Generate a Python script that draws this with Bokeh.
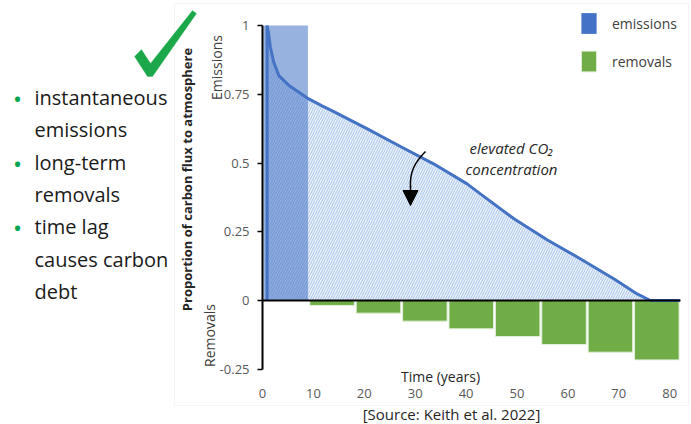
import math
from bokeh.plotting import figure
from bokeh.models import (Range1d, FixedTicker, Label, Legend, LegendItem,
                          PolyAnnotation, Arrow, NormalHead, LinearAxis)
from bokeh.embed import file_html
from bokeh.resources import INLINE

# ---------------- data ----------------
curve_years = [0.9, 0.9, 1.2, 1.55, 2.2, 3.2, 5.2, 8.8, 11.7, 14.0, 20.6, 27.1,
               33.6, 40.2, 43.0, 49.4, 55.9, 62.5, 69.0, 73.6, 76.2, 82.0]
curve_values = [0.0, 1.0, 0.97, 0.921, 0.867, 0.818, 0.782, 0.736, 0.708, 0.687,
                0.624, 0.56, 0.497, 0.424, 0.385, 0.297, 0.221, 0.151, 0.079,
                0.024, 0.0, 0.0]
emission_index = [0]
emission_values = [1.0]
removal_index = [1, 2, 3, 4, 5, 6, 7, 8]
removal_values = [-0.018, -0.046, -0.075, -0.103, -0.131, -0.160, -0.188, -0.216]
x_ticks = [0, 10, 20, 30, 40, 50, 60, 70, 80]
y_ticks = [-0.25, 0, 0.25, 0.5, 0.75, 1]
y_tick_labels = ["-0.25", "0", "0.25", "0.5", "0.75", "1"]
bullet_lines = [("instantaneous", True), ("emissions", False),
                ("long-term", True), ("removals", False),
                ("time lag", True), ("causes carbon", False), ("debt", False)]

FONT = "Open Sans"
BLUE = "#4472c4"
GREEN = "#70ad47"

# page-pixel helpers for annotation placement
def X(px):
    return (px - 262) / 5.09

def Y(py):
    return (300 - py) / 275.0

def B(px):  # bar-index scale
    return -0.5 + (px - 262) / 46.39

W, H = 691, 424
p = figure(width=W, height=H, x_range=Range1d(X(0), X(W)),
           y_range=Range1d(Y(H), Y(0)), output_backend="svg",
           toolbar_location=None, min_border=0, x_axis_location=None,
           y_axis_location=None)
p.extra_x_ranges = {"bars": Range1d(B(0), B(W))}
p.outline_line_color = None
p.xgrid.visible = False
p.ygrid.visible = False
p.background_fill_color = "white"
p.border_fill_color = "white"

# chart border
p.add_layout(PolyAnnotation(xs=[X(174), X(688), X(688), X(174)],
                            ys=[Y(3), Y(3), Y(405), Y(405)],
                            fill_alpha=0, line_color="#d9d9d9", line_width=1,
                            level="underlay"))

# hatched area under curve
p.varea(x=curve_years, y1=0, y2=curve_values, fill_color="#f0f5fc",
        hatch_pattern="/", hatch_color="#b3cbed", hatch_scale=5, hatch_weight=1.2)

# bars
p.vbar(x=emission_index, top=emission_values, bottom=0, width=0.96,
       x_range_name="bars", fill_color=BLUE, fill_alpha=0.55, line_color=None)
rem = p.vbar(x=removal_index, top=removal_values, bottom=0, width=0.96,
             x_range_name="bars", fill_color=GREEN, line_color="#e2efda", line_width=1)
# zero-height twin of the emission bar, used as the legend swatch
legend_em = p.vbar(x=emission_index, top=0, bottom=0, width=0.96,
                   x_range_name="bars", fill_color=BLUE, line_color=None)

# curve
p.line(curve_years, curve_values, line_color=BLUE, line_width=3)

# arrow
p.bezier(x0=[X(425)], y0=[Y(151)], x1=[X(410)], y1=[Y(187)],
         cx0=[X(414)], cy0=[Y(162)], cx1=[X(409)], cy1=[Y(172)],
         line_color="black", line_width=1.5)
p.add_layout(Arrow(end=NormalHead(size=15, fill_color="black", line_color="black"),
                   x_start=X(410), y_start=Y(186), x_end=X(410), y_end=Y(205),
                   line_color="black", line_width=1.5))

for txt, py in [("elevated CO\u2082", 147), ("concentration", 168)]:
    p.add_layout(Label(x=X(511), y=Y(py), text=txt, text_font=FONT,
                       text_font_size="15px", text_font_style="italic",
                       text_color="#262626", text_align="center",
                       text_baseline="alphabetic"))

# axes (fixed inside the frame)
ya = LinearAxis(fixed_location=0, ticker=FixedTicker(ticks=y_ticks))
ya.major_label_overrides = {t: l for t, l in zip(y_ticks, y_tick_labels)}
ya.bounds = (-0.25, 1)
ya.axis_line_color = "black"
ya.axis_line_width = 2
ya.major_tick_out = 5
ya.major_tick_in = 0
ya.major_tick_line_color = "black"
ya.major_tick_line_width = 1.5
ya.minor_tick_line_color = None
ya.major_label_standoff = 8
ya.major_label_text_font = FONT
ya.major_label_text_font_size = "13px"
ya.major_label_text_color = "#595959"
p.add_layout(ya, "left")

xa = LinearAxis(fixed_location=Y(379), ticker=FixedTicker(ticks=x_ticks))
xa.axis_line_color = None
xa.major_tick_line_color = None
xa.minor_tick_line_color = None
xa.major_label_standoff = 3
xa.major_label_text_font = FONT
xa.major_label_text_font_size = "13px"
xa.major_label_text_color = "#595959"
p.add_layout(xa, "below")

# zero line as an axis with no ticks or labels
za = LinearAxis(fixed_location=0, ticker=FixedTicker(ticks=x_ticks),
                bounds=(0, X(680)))
za.axis_line_color = "black"
za.axis_line_width = 2
za.major_tick_line_color = None
za.minor_tick_line_color = None
za.major_label_text_alpha = 0
p.add_layout(za, "below")

# axis titles
p.add_layout(Label(x=X(186), y=Y(179), text="Proportion of carbon flux to atmosphere",
                   angle=math.pi / 2, text_font=FONT, text_font_size="13px",
                   text_font_style="bold",
                   text_color="#262626", text_align="center", text_baseline="middle"))
p.add_layout(Label(x=X(215.5), y=Y(67), text="Emissions", angle=math.pi / 2,
                   text_font=FONT, text_font_size="14px", text_color="#404040",
                   text_align="center", text_baseline="middle"))
p.add_layout(Label(x=X(209), y=Y(335), text="Removals", angle=math.pi / 2,
                   text_font=FONT, text_font_size="14px", text_color="#404040",
                   text_align="center", text_baseline="middle"))
p.add_layout(Label(x=X(440), y=Y(376), text="Time (years)", text_font=FONT,
                   text_font_size="14px", text_color="#262626",
                   text_align="center", text_baseline="middle"))
p.add_layout(Label(x=X(451), y=Y(413), text="[Source: Keith et al. 2022]",
                   text_font=FONT, text_font_size="15px", text_color="#262626",
                   text_align="center", text_baseline="middle"))

# legend
legend = Legend(items=[LegendItem(label="emissions", renderers=[legend_em]),
                       LegendItem(label="removals", renderers=[rem])],
                location=(579, H - 74), glyph_width=19, glyph_height=26,
                label_standoff=14, spacing=12, padding=0, margin=0,
                border_line_alpha=0, background_fill_alpha=0,
                label_text_font=FONT, label_text_font_size="14px",
                label_text_color="#404040")
p.add_layout(legend)

# check mark
chk = [(134, 56), (141, 49), (150, 63), (192, 10), (196, 13), (152, 76), (147, 76)]
p.add_layout(PolyAnnotation(xs=[X(a) for a, b in chk], ys=[Y(b) for a, b in chk],
                            fill_color="#1ca84a", fill_alpha=1, line_color="#1ca84a",
                            line_width=1))

# bullet text
base = 97.0
for i, (txt, bullet) in enumerate(bullet_lines):
    py = base + i * 32.3
    if bullet:
        p.add_layout(Label(x=X(17), y=Y(py + 1), text="\u2022", text_font=FONT,
                           text_font_size="24px", text_color="#00a650",
                           text_align="center", text_baseline="alphabetic"))
    p.add_layout(Label(x=X(34), y=Y(py), text=txt, text_font=FONT,
                       text_font_size="20px", text_color="#1a1a1a",
                       text_align="left", text_baseline="alphabetic"))

open("out.html", "w").write(file_html(p, INLINE))
